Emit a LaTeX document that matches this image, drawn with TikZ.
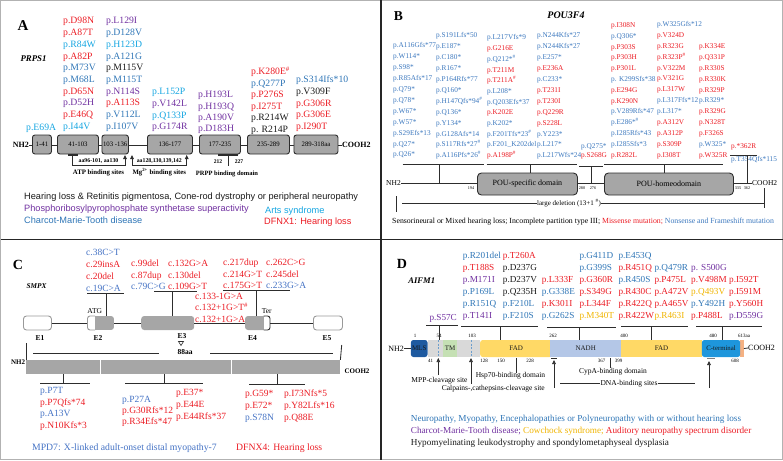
\documentclass[tikz,border=0pt]{standalone}
\usepackage{fontspec}
\setmainfont{Liberation Serif}
\newfontfamily\sansf{Liberation Sans}
\usetikzlibrary{arrows.meta}
\definecolor{cR}{RGB}{235,28,36}
\definecolor{cB}{RGB}{46,117,182}
\definecolor{cC}{RGB}{20,165,225}
\definecolor{cP}{RGB}{112,48,160}
\definecolor{cK}{RGB}{25,25,25}
\definecolor{cO}{RGB}{240,180,0}
\definecolor{cBB}{RGB}{60,120,190}
\definecolor{cCB}{RGB}{68,114,196}
\definecolor{gbox}{RGB}{166,166,166}
\definecolor{lnc}{RGB}{45,45,45}
\definecolor{lgray}{RGB}{217,217,217}
\definecolor{tmg}{RGB}{197,224,180}
\definecolor{fady}{RGB}{255,217,102}
\definecolor{nadhb}{RGB}{180,199,231}
\definecolor{mlsb}{RGB}{30,90,160}
\definecolor{ctb}{RGB}{30,150,220}
\definecolor{orng}{RGB}{244,177,131}
\newcommand\myfs[1]{\fontsize{#1}{#1}\selectfont}
\tikzset{
  T/.style={inner sep=0pt, text height=0.68*#1pt, text depth=0pt, font=\myfs{#1}},
  ln/.style={draw=lnc, line width=0.85pt},
  thn/.style={draw=lnc, line width=0.6pt},
  dbA/.style={draw=lnc, fill=gbox, rounded corners=2.5pt, line width=0.9pt, minimum height=19pt, inner sep=0pt, anchor=west, font=\myfs{6.8}},
  dbB/.style={draw=lnc, fill=gbox, rounded corners=4pt, line width=0.9pt, minimum height=22pt, inner sep=0pt, anchor=west, font=\myfs{8}},
  dd/.style={minimum height=17pt, inner sep=0pt, anchor=west, font=\myfs{7}, text=cK},
  ex/.style={minimum height=14pt, inner sep=0pt, anchor=west},
  uptip/.style={-{Triangle[length=4pt,width=3.6pt]}},
  twotip/.style={{Triangle[length=4pt,width=3.6pt]}-{Triangle[length=4pt,width=3.6pt]}},
}
\newcommand\mcol[6]{\foreach \mc/\mt [count=\mi from 0] in {#6}{\node[T=#5, anchor=west, text=\mc] (#1-\mi) at (#2, #3+\mi*#4) {\mt};}}
\begin{document}
\begin{tikzpicture}[x=1pt,y=-1pt]
\useasboundingbox (0,0) rectangle (783,460);
\draw[gray!60, line width=1pt] (0.5,0.5) rectangle (782.5,459.5);
\draw[black!85, line width=1.1pt] (381,0.5) -- (381,459.5);
\draw[black!85, line width=1.1pt] (0.5,239.5) -- (782.5,239.5);

% ================= Panel A =================
\node[T=15] (labA) at (23,25) {\bfseries A};
\node[T=8.8] (geneA) at (33.5,58.3) {\bfseries\itshape PRPS1};
\mcol{A1}{63}{20.7}{11.7}{9.7}{cR/p.D98N, cR/p.A87T, cC/p.R84W, cR/p.A82P, cB/p.M73V, cB/p.M68L, cR/p.D65N, cP/p.D52H, cR/p.E46Q, cC/p.I44V}
\mcol{A2}{106}{20.7}{11.7}{9.7}{cP/p.L129I, cB/p.D128V, cC/p.H123D, cB/p.A121G, cK/p.M115V, cB/p.M115T, cP/p.N114S, cR/p.A113S, cB/p.V112L, cB/p.I107V}
\mcol{A3}{152}{91.5}{11.7}{9.7}{cC/p.L152P, cP/p.V142L, cC/p.Q133P, cP/p.G174R}
\mcol{A4}{198}{94.5}{11.3}{9.7}{cP/p.H193L, cP/p.H193Q, cP/p.A190V, cP/p.D183H}
\mcol{A5}{251}{71.7}{11.5}{9.7}{cR/p.K280E\textsuperscript{\#}, cB/p.Q277P, cR/p.P276S, cR/p.I275T, cK/p.R214W, cK/p. R214P}
\mcol{A6}{296}{79.3}{11.8}{9.7}{cB/p.S314Ifs*10, cK/p.V309F, cR/p.G306R, cR/p.G306E, cR/p.I290T}
\node[T=9.7, anchor=west, text=cC] (A0) at (26,127.5) {p.E69A};

\node[T=8, anchor=east] (nhA) at (29,145) {\bfseries NH2};
\node[T=8, anchor=west] (coA) at (342,145) {\bfseries COOH2};
\draw[ln] (nhA.east) -- (coA.west);
\node[dbA, minimum width=19pt] (bA1) at (32,144.5) {1-41};
\node[dbA, minimum width=41pt] (bA2) at (57,144.5) {41-103};
\node[dbA, minimum width=26.5pt] (bA3) at (101.5,144.5) {103 -136};
\node[dbA, minimum width=45pt] (bA4) at (147,144.5) {136-177};
\node[dbA, minimum width=41pt] (bA5) at (199,144.5) {177-235};
\node[dbA, minimum width=42pt] (bA6) at (247,144.5) {235-289};
\node[dbA, minimum width=44pt] (bA7) at (293.5,144.5) {289-318aa};

% ATP
\draw[lnc, line width=1.8pt] (68,155) -- (78,155);
\coordinate (atp1) at (72.7,155); \coordinate (atp2) at (125,155);
\draw[ln, uptip] (atp1) -- (72.7,165) -- (125,165) -- (atp2);
\node[T=5.8] (atpaa) at (98.5,160.5) {\bfseries aa96-101, aa130};
\node[T=6.8] (atpt) at (98.5,172) {\bfseries ATP binding sites};
% Mg
\coordinate (mg1) at (132,155); \coordinate (mg2) at (186.7,155);
\draw[ln, twotip] (mg1) -- (132,165) -- (186.7,165) -- (mg2);
\node[T=5.8] (mgaa) at (159.3,160.5) {\bfseries aa128,130,139,142};
\node[T=6.8] (mgt) at (159.3,172.5) {\bfseries Mg\textsuperscript{2+} binding sites};
% PRPP
\draw[lnc, line width=1.8pt] (218,155) -- (238,155);
\coordinate (pr1) at (228,155); \coordinate (pr2) at (228,166);
\draw[ln] (pr1) -- (pr2);
\node[T=5.6] (p212) at (218,162) {\bfseries 212};
\node[T=5.6] (p227) at (239,162) {\bfseries 227};
\node[T=6.5] (prt) at (227,173.5) {\bfseries PRPP binding domain};

\node[T=9.2, anchor=west, text=cK] (legA1) at (24,196.7) {\sansf Hearing loss \& Retinitis pigmentosa, Cone-rod dystrophy or peripheral neuropathy};
\node[T=9.2, anchor=west, text=cP] (legA2) at (24,208.5) {\sansf Phosphoribosylpyrophosphate synthetase superactivity};
\node[T=9.2, anchor=west, text=cB] (legA3) at (24,220) {\sansf Charcot-Marie-Tooth disease};
\node[T=9.2, anchor=west, text=cC] (legA4) at (265,210) {\sansf Arts syndrome};
\node[T=9.2, anchor=west, text=cR] (legA5) at (264,221.7) {\sansf DFNX1: Hearing loss};

% ================= Panel B =================
\node[T=13.6] (labB) at (398.5,16) {\bfseries B};
\node[T=10] (geneB) at (566,15) {\bfseries\itshape POU3F4};
\mcol{B1}{393}{45}{10.95}{7.3}{cBB/p.A116Gfs*77, cBB/p.W114*, cBB/p.S98*, cBB/p.R85Afs*17, cBB/p.Q79*, cBB/p.Q78*, cBB/p.W67*, cBB/p.W57*, cBB/p.S29Efs*13, cBB/p.Q27*, cBB/p.Q26*}
\mcol{B2}{436}{35}{10.95}{7.3}{cBB/p.S191Lfs*50, cBB/p.E187*, cBB/p.C180*, cBB/p.R167*, cBB/p.P164Rfs*77, cBB/p.Q160*, cBB/p.H147Qfs*94\textsuperscript{\#}, cBB/p.Q136*, cBB/p.Y134*, cBB/p.G128Afs*14, cBB/p.S117Rfs*27\textsuperscript{\#}, cBB/p.A116Pfs*26\textsuperscript{\#}}
\mcol{B3}{487}{37.5}{10.7}{7.3}{cBB/p.L217Vfs*9, cR/p.G216E, cBB/p.Q212*\textsuperscript{\#}, cR/p.T211M, cR/p.T211A\textsuperscript{\#}, cBB/p.L208*, cBB/p.Q203Efs*37, cR/p.K202E, cBB/p.K202*, cBB/p.F201Tfs*23\textsuperscript{\#}, cBB/p.F201\_K202del, cR/p.A198P\textsuperscript{\#}}
\mcol{B4}{537}{35}{10.95}{7.3}{cBB/p.N244Kfs*27, cBB/p.N244Kfs*27, cBB/p.E257*, cR/p.E236A, cBB/p.C233*, cR/p.T231I, cR/p.T230I, cR/p.Q229R, cR/p.S228L, cBB/p.Y223*, cBB/p.L217*, cBB/p.L217Wfs*24}
\mcol{B9}{581}{146}{9.2}{7.3}{cBB/p.Q275*, cR/p.S268G}
\mcol{B5}{611}{25}{10.8}{7.3}{cR/p.I308N, cBB/p.Q306*, cR/p.P303S, cR/p.P303H, cR/p.P301L, cBB/p. K299Sfs*38, cR/p.E294G, cR/p.K290N, cBB/p.V289Rfs*47, cBB/p.E286*\textsuperscript{\#}, cBB/p.I285Rfs*43, cBB/p.I285Sfs*3, cR/p.R282L}
\mcol{B6}{657}{24}{10.9}{7.3}{cBB/p.W325Gfs*12, cR/p.V324D, cR/p.R323G, cR/p.R323P\textsuperscript{\#}, cR/p.V322M, cR/p.V321G, cR/p.L317W, cBB/p.L317Ffs*12, cBB/p.L317*, cR/p.A312V, cR/p.A312P, cR/p.S309P, cR/p.I308T}
\mcol{B7}{699}{46}{10.9}{7.3}{cR/p.K334E, cR/p.Q331P, cR/p.R330S, cR/p.R330K, cR/p.R329P, cBB/p.R329*, cR/p.R329G, cR/p.N328T, cR/p.F326S, cBB/p.W325*, cR/p.W325R}
\mcol{B8}{731}{146}{13.5}{7.3}{cR/p.*362R, cBB/p.T354Qfs*115}

\node[T=7.5, anchor=east] (nhB) at (401,183) {NH2};
\node[T=7.5, anchor=west] (coB) at (752,183) {COOH2};
\draw[ln] (nhB.east) -- (coB.west);
\node[dbB, minimum width=100pt] (psd) at (477,184) {POU-specific domain};
\node[dbB, minimum width=129pt] (phd) at (604,184) {POU-homeodomain};
\foreach \nn/\nx in {194/471, 280/582, 276/593, 335/738, 362/747}
  \node[T=4.2] (n\nn) at (\nx,188.5) {\nn};
% brackets
\coordinate (bb1) at (439,164);
\draw[ln] (402.7,164) -- (484,164); \draw[ln] (bb1) -- (bb1 |- nhB.east);
\coordinate (bb2) at (530,164);
\draw[ln] (486.7,164) -- (577,164); \draw[ln] (bb2) -- (bb2 |- psd.north);
\coordinate (bb3) at (591,166.5);
\draw[ln] (579,166.5) -- (603,166.5); \draw[ln] (bb3) -- (bb3 |- nhB.east);
\coordinate (bb4) at (664,164);
\draw[ln] (604,164) -- (723,164); \draw[ln] (bb4) -- (bb4 |- phd.north);
\coordinate (bb5) at (747,155.7);
\draw[ln] (730,155.7) -- (757,155.7); \draw[ln] (bb5) -- (bb5 |- nhB.east);
% large deletion
\node[T=7] (ldel) at (569,203) {large deletion (13+1 \textsuperscript{\#})};
\draw[thn] (396,196) -- (396,212);
\draw[thn] (402,203) -- (ldel.west);
\draw[thn] (ldel.east) -- (764,203);
\draw[thn] (764,188) -- (764,208);
\node[T=7.8, anchor=west] (legB) at (392,221) {Sensorineural or Mixed hearing loss; Incomplete partition type III; \textcolor{cR}{Missense mutation;} \textcolor{cBB}{Nonsense and Frameshift mutation}};

% ================= Panel C =================
\node[T=14] (labC) at (18,265) {\bfseries C};
\node[T=7.3] (geneC) at (36.5,285.7) {\bfseries\itshape SMPX};
\mcol{C1}{86}{252}{12}{9.5}{cCB/c.38C>T, cR/c.29insA, cR/c.20del, cCB/c.19C>A}
\mcol{C2}{131}{263}{11.8}{9.5}{cR/c.99del, cR/c.87dup, cCB/c.79C>G}
\mcol{C3}{168}{263}{11.8}{9.5}{cR/c.132G>A, cR/c.130del, cR/c.109G>T}
\mcol{C4}{195}{296.3}{11.3}{9.5}{cR/c.133-1G>A, cR/c.132+1G>T\textsuperscript{\#}, cR/c.132+1G>A}
\mcol{C5}{223}{262}{11.8}{9.5}{cR/c.217dup, cR/c.214G>T, cR/c.175G>T}
\mcol{C6}{266}{262}{11.8}{9.5}{cR/c.262C>G, cR/c.245del, cCB/c.233G>A}
% exons
\node[ex, draw=gray!80, fill=white, line width=0.9pt, rounded corners=3pt, minimum width=28pt] (e1) at (23,323) {};
\node[ex, minimum width=27pt] (e2) at (87,323) {};
\begin{scope}
\clip[rounded corners=3pt] (87,316) rectangle (114,330);
\fill[gbox] (95,316) rectangle (114,330);
\end{scope}
\draw[gray!80, line width=0.9pt, rounded corners=2.5pt] (95,316) -- (87.5,316) -- (87.5,330) -- (95,330);
\node[ex, fill=gbox, rounded corners=3pt, minimum width=53pt] (e3) at (141,323) {};
\node[ex, minimum width=25pt] (e4) at (245,323) {};
\fill[gbox, rounded corners=3pt] (245,316) rectangle (266,330);
\fill[white] (263.5,316.5) rectangle (269.5,329.5);
\draw[lnc, line width=0.9pt, rounded corners=2.5pt] (263.5,316) -- (270,316) -- (270,330) -- (263.5,330);
\node[ex, draw=gray!80, fill=white, line width=0.9pt, rounded corners=3pt, minimum width=29pt] (e5) at (313,323) {};
\draw[ln] (e1.east) -- (e2.west);
\draw[ln] (e2.east) -- (e3.west);
\draw[ln] (e3.east) -- (e4.west);
\draw[ln] (e4.east) -- (e5.west);
\node[T=7.5] (le1) at (40,337.5) {\bfseries E1};
\node[T=7.5] (le2) at (98,337.5) {\bfseries E2};
\node[T=7.5] (le3) at (182,336) {\bfseries E3};
\node[T=7.5] (le4) at (252.5,337.5) {\bfseries E4};
\node[T=7.5] (le5) at (327,337.5) {\bfseries E5};
\node[T=7.5] (atg) at (94.7,311) {ATG};
\node[T=7.5] (ter) at (266.7,311) {Ter};
\draw[lnc, line width=0.6pt] (178.5,341.5) -- (183.5,341.5) -- (181,345.5) -- cycle;
\node[T=7.5] (aa88) at (185,351.7) {\bfseries 88aa};
% bracket lines above exons
\coordinate (ce2) at (106,293); \draw[ln] (87,293) -- (124,293); \draw[ln] (ce2) -- (ce2 |- e2.north);
\coordinate (ce3) at (172.7,291); \draw[ln] (154,291) -- (197,291); \draw[ln] (ce3) -- (ce3 |- e3.north);
\coordinate (ce4) at (256.7,290.7); \draw[ln] (223,290.7) -- (290,290.7); \draw[ln] (ce4) -- (ce4 |- e4.north);
% protein
\node[fill=gbox, minimum width=314pt, minimum height=14pt, inner sep=0pt, anchor=west] (prot) at (26,367) {};
\draw[white, line width=1pt] (100,360) -- (100,374);
\draw[white, line width=1pt] (231.7,360) -- (231.7,374);
\node[T=7] (nhC) at (18,362) {\bfseries NH2};
\node[T=7] (coC) at (357,370.7) {\bfseries COOH2};
\draw[ln] (26,343) -- (prot.north west);
\draw[ln] (33,353) -- (159,353);
\draw[ln] (210,353) -- (333,353);
\draw[ln] (341.7,345) -- (prot.north east);
\coordinate (cp1) at (63,383); \draw[ln] (40,383) -- (90,383); \draw[ln] (cp1) -- (cp1 |- prot.south);
\coordinate (cp2) at (164,383); \draw[ln] (125,383) -- (203,383); \draw[ln] (cp2) -- (cp2 |- prot.south);
\coordinate (cp3) at (277,384.7); \draw[ln] (249,384.7) -- (305,384.7); \draw[ln] (cp3) -- (cp3 |- prot.south);
\mcol{C7}{40}{390.7}{11.5}{9.5}{cCB/p.P7T, cR/p.P7Qfs*74, cCB/p.A13V, cR/p.N10Kfs*3}
\mcol{C8}{122}{399.5}{10.7}{9.5}{cCB/p.P27A, cR/p.G30Rfs*12, cR/p.R34Efs*47}
\mcol{C9}{176}{392}{12.3}{9.5}{cR/p.E37*, cR/p.E44E, cR/p.E44Rfs*37}
\mcol{C10}{245}{393}{12}{9.5}{cR/p.G59*, cR/p.E72*, cCB/p.S78N}
\mcol{C11}{284}{393}{12}{9.5}{cR/p.I73Nfs*5, cR/p.Y82Lfs*16, cR/p.Q88E}
\node[T=9.7, anchor=west, text=cCB] (legC1) at (32,447) {MPD7: X-linked adult-onset distal myopathy-7};
\node[T=9.7, anchor=west, text=cR] (legC2) at (236,447) {DFNX4: Hearing loss};

% ================= Panel D =================
\node[T=14] (labD) at (402,263.5) {\bfseries D};
\node[T=8.6] (geneD) at (421.7,280.7) {\bfseries\itshape AIFM1};
\node[T=9.2, anchor=west, text=cP] (D0) at (429.3,317.3) {p.S57C};
\mcol{D1}{462.7}{255.5}{12}{9.2}{cB/p.R201del, cR/p.T188S, cP/p.M171I, cB/p.P169L, cB/p.R151Q, cP/p.T141I}
\mcol{D2}{502.7}{255.5}{12}{9.2}{cR/p.T260A, cK/p.D237G, cK/p.D237V, cK/p.Q235H, cB/p.F210L, cB/p.F210S}
\mcol{D3}{541.7}{279.5}{12}{9.2}{cR/p.L333F, cB/p.G338E, cR/p.K301I, cB/p.G262S}
\mcol{D4}{579.3}{255.5}{12}{9.2}{cB/p.G411D, cB/p.G399S, cR/p.G360R, cR/p.S349G, cR/p.L344F, cO/p.M340T}
\mcol{D5}{618.3}{255.5}{12}{9.2}{cB/p.E453Q, cR/p.R451Q, cB/p.R450S, cR/p.R430C, cR/p.R422Q, cR/p.R422W}
\mcol{D6}{654.3}{267.5}{12}{9.2}{cB/p.Q479R, cR/p.P475L, cR/p.A472V, cR/p.A465V, cO/p.R463I}
\mcol{D7}{691}{267.5}{12}{9.2}{cP/p. S500G, cR/p.V498M, cO/p.Q493V, cB/p.Y492H, cR/p.P488L}
\mcol{D8}{729}{279.5}{12}{9.2}{cR/p.I592T, cR/p.I591M, cR/p.Y560H, cP/p.D559G}
% bar
\node[dd, fill=lgray, minimum width=16pt] (g1) at (427.3,348.5) {};
\node[dd, fill=mlsb, rounded corners=2.5pt, minimum width=16.6pt] (mls) at (410.7,348.5) {MLS};
\node[dd, fill=tmg, minimum width=14pt] (tm) at (443,348.5) {TM};
\node[dd, fill=lgray, minimum width=23pt] (g2) at (457,348.5) {};
\node[dd, fill=fady, rounded corners=2.5pt, minimum width=72pt] (fad1) at (480,348.5) {FAD};
\node[dd, fill=nadhb, minimum width=71pt] (nadh) at (550,348.5) {NADH};
\node[dd, fill=fady, minimum width=80.7pt] (fad2) at (621,348.5) {FAD};
\node[dd, fill=orng, minimum width=4pt] (orn) at (739.5,348.5) {};
\node[dd, fill=ctb, rounded corners=2.5pt, minimum width=38.3pt, font=\myfs{6.8}] (cter) at (701.7,348.5) {C-terminal};
\node[T=8, anchor=east] (nhD) at (404,348.5) {NH2};
\node[T=8, anchor=west] (coD) at (748,348) {COOH2};
\draw[ln] (nhD.east) -- (mls.west);
\draw[ln] (orn.east) -- (coD.west);
\foreach \nn/\nx/\nm in {1/415/a1, 54/439/a54, 103/472/a103, 262/553/a262, 400/624/a400, 480/713/a480, 613aa/744/a613}
  \node[T=5] (\nm) at (\nx,335.5) {\nn};
\foreach \nn/\nx/\nm in {41/430.5/b41, 128/484/b128, 150/501/b150, 228/530/b228, 367/601.7/b367, 399/618.7/b399, 608/735/b608}
  \node[T=5] (\nm) at (\nx,361) {\nn};
\draw[cB!70, line width=0.6pt, dash pattern=on 2pt off 1.5pt] (438.3,340) -- (438.3,357);
\draw[cB!70, line width=0.6pt, dash pattern=on 2pt off 1.5pt] (471,340) -- (471,357);
% annotations under bar
\node[T=7.5] (mpp) at (439.5,380) {MPP-cleavage site};
\draw[thn, uptip] (438.3,374.5) -- (438.3,358);
\node[T=7.5] (calp) at (493.3,388) {Calpains-,cathepsins-cleavage site};
\draw[thn, uptip] (471,383.5) -- (471,358);
\node[T=7.5] (hsp) at (510.5,375.3) {Hsp70-binding domain};
\coordinate (hspt) at (516,358);
\draw[thn] (hspt) -- (hspt |- hsp.north);
\node[T=7.5] (cypa) at (613,370.7) {CypA-binding domain};
\coordinate (cypt) at (610,358);
\draw[thn] (cypt) -- (cypt |- cypa.north);
\node[T=7.5] (dnab) at (629,383) {DNA-binding sites};
\draw[thn] (560,383) -- (dnab.west);
\draw[thn] (dnab.east) -- (695,383);
\draw[lnc, line width=1.5pt] (551,358.5) -- (557,358.5);
\draw[gray, line width=1.5pt] (707,358.5) -- (715,358.5);
\draw[thn, uptip] (554,388) -- (554,360);
\draw[thn, uptip] (709,388) -- (709,361);
% brackets above
\coordinate (db1) at (439.3,325.3); \draw[ln] (426,325.3) -- (458,325.3); \draw[ln] (db1) -- (db1 |- g1.north);
\coordinate (db2) at (500,326); \draw[ln] (461,326) -- (538,326); \draw[ln] (db2) -- (db2 |- fad1.north);
\coordinate (db3) at (579.3,327); \draw[ln] (547,327) -- (616,327); \draw[ln] (db3) -- (db3 |- nadh.north);
\coordinate (db4) at (651.7,326.3); \draw[ln] (621,326.3) -- (688,326.3); \draw[ln] (db4) -- (db4 |- fad2.north);
\coordinate (db5) at (722.3,326.3); \draw[ln] (696,326.3) -- (761.7,326.3); \draw[ln] (db5) -- (db5 |- cter.north);
% legend
\node[T=9.2, anchor=west, text=cB] (legD1) at (410.7,418) {Neuropathy, Myopathy, Encephalopathies or Polyneuropathy with or without hearing loss};
\node[T=9.2, anchor=west] (legD2) at (410.7,430) {\textcolor{cP}{Charcot-Marie-Tooth disease;} \textcolor{cO}{Cowchock syndrome;} \textcolor{cR}{Auditory neuropathy spectrum disorder}};
\node[T=9.2, anchor=west, text=cK] (legD3) at (410.7,442) {Hypomyelinating leukodystrophy and spondylometaphyseal dysplasia};
\end{tikzpicture}
\end{document}
